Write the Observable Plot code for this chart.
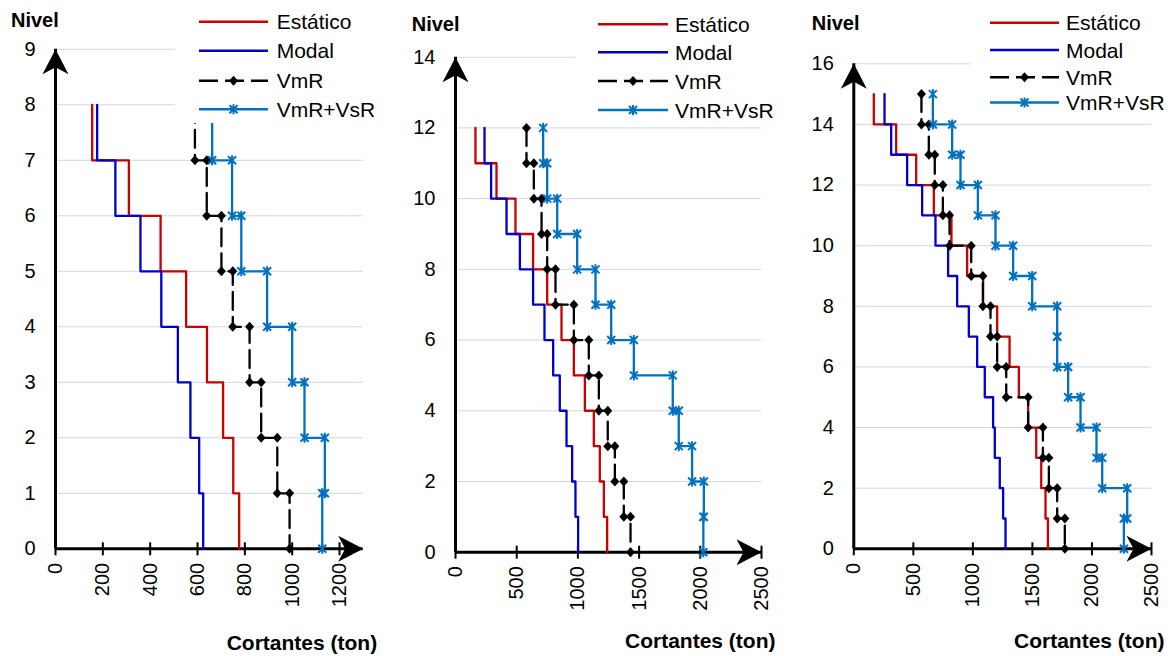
<!DOCTYPE html>
<html><head><meta charset="utf-8">
<script src="https://cdn.jsdelivr.net/npm/d3@7"></script>
<script src="https://cdn.jsdelivr.net/npm/@observablehq/plot@0.6"></script>
<style>
body{margin:0;background:#fff;}
#wrap{position:relative;width:1168px;height:656px;overflow:hidden;background:#fff;font-family:"Liberation Sans",Arial,sans-serif;}
#wrap svg{position:absolute;top:0;}
</style></head><body><div id="wrap"></div>
<script>
// ---- series ----
const seriesNames = ["Estático", "Modal", "VmR", "VmR+VsR"];
const seriesColors = ["#C80000", "#0000CC", "#000000", "#0070C0"];

// ---- panel 1 (storeys 1..8, bottom to top), cortantes in ton ----
const p1Estatico = [776, 751, 708, 640, 552, 444, 310, 155];
const p1Modal    = [624, 607, 570, 517, 447, 359, 253, 176];
const p1VmR      = [989, 937, 869, 820, 749, 701, 639, 589];
const p1VmRVsR   = [1127, 1138, 1052, 1000, 894, 785, 746, 662];
const p1XTicks = [0, 200, 400, 600, 800, 1000, 1200];
const p1YTicks = [0, 1, 2, 3, 4, 5, 6, 7, 8, 9];
const p1XMax = 1300;

// ---- panel 2 (storeys 1..12) ----
const p2Estatico = [1239, 1212, 1179, 1130, 1057, 967, 866, 749, 634, 490, 335, 163];
const p2Modal    = [1002, 980, 953, 907, 852, 798, 727, 634, 526, 417, 291, 237];
const p2VmR      = [1430, 1375, 1302, 1244, 1171, 1089, 967, 817, 749, 703, 640, 580];
const p2VmRVsR   = [2025, 2029, 1933, 1824, 1775, 1457, 1272, 1144, 994, 831, 749, 716];
const p2XTicks = [0, 500, 1000, 1500, 2000, 2500];
const p2YTicks = [0, 2, 4, 6, 8, 10, 12, 14];
const p2XMax = 2500;

// ---- panel 3 (storeys 1..15) ----
const p3Estatico = [1630, 1610, 1574, 1532, 1464, 1386, 1308, 1204, 1086, 952, 820, 672, 524, 356, 168];
const p3Modal    = [1274, 1254, 1226, 1184, 1170, 1100, 1036, 966, 868, 792, 686, 574, 448, 314, 258];
const p3VmR      = [1772, 1708, 1638, 1588, 1464, 1280, 1204, 1148, 1084, 986, 804, 748, 680, 630, 568];
const p3VmRVsR   = [2268, 2296, 2086, 2038, 1904, 1800, 1708, 1708, 1498, 1338, 1190, 1042, 896, 826, 664];
const p3XTicks = [0, 500, 1000, 1500, 2000, 2500];
const p3YTicks = [0, 2, 4, 6, 8, 10, 12, 14, 16];
const p3XMax = 2500;

const yLabel = "Nivel";
const xLabel = "Cortantes (ton)";
const FONT = "'Liberation Sans', Arial, sans-serif";

// ---- custom symbols ----
const diamondSym = {draw(c){c.moveTo(0,-5);c.lineTo(4.5,0);c.lineTo(0,5);c.lineTo(-4.5,0);c.closePath();}};
const starSym = {draw(c){const r=4;c.moveTo(-r,-r);c.lineTo(r,r);c.moveTo(r,-r);c.lineTo(-r,r);c.moveTo(0,-5);c.lineTo(0,5);}};
const arrowSym = {draw(c){c.moveTo(0,0);c.lineTo(13,25);c.lineTo(0,18);c.lineTo(-13,25);c.closePath();}};
const tickSym = {draw(c){c.moveTo(0,-6.5);c.lineTo(0,6.5);}};

// step-line vertices built from storey values
function steps(V){
  const pts=[];
  for(let s=V.length; s>=1; s--){ pts.push({x:V[s-1], y:s}); pts.push({x:V[s-1], y:s-1}); }
  return pts;
}

const panels = [
  {series:[p1Estatico,p1Modal,p1VmR,p1VmRVsR], xt:p1XTicks, yt:p1YTicks, xmax:p1XMax,
   left:0, width:390, mL:55, mR:27.3, mT:48.8, mB:107.7,
   leg:{box:[175,0,215,123], x1:199, x2:268, tx:276.7, rows:[21.7,50.7,80.7,109.3]},
   nivel:[11,27.3], cort:[226.7,650]},
  {series:[p2Estatico,p2Modal,p2VmR,p2VmRVsR], xt:p2XTicks, yt:p2YTicks, xmax:p2XMax,
   left:390, width:400, mL:65, mR:29, mT:56.7, mB:104.3,
   leg:{box:[575,0,215,122], x1:598, x2:668, tx:675, rows:[24.3,52.3,81,110]},
   nivel:[411.7,31], cort:[625,648.3]},
  {series:[p3Estatico,p3Modal,p3VmR,p3VmRVsR], xt:p3XTicks, yt:p3YTicks, xmax:p3XMax,
   left:790, width:378, mL:63.3, mR:17, mT:63.3, mB:107.7,
   leg:{box:[970,0,198,118], x1:990, x2:1059, tx:1066, rows:[22.7,50,77.3,102.5]},
   nivel:[811.7,30], cort:[1014,648]}
];

const wrap = document.getElementById("wrap");

for (const p of panels){
  const ymax = p.yt[p.yt.length-1];
  const [est, mod, vmr, vsr] = p.series.map(steps);
  const chart = Plot.plot({
    width: p.width, height: 656,
    marginLeft: p.mL, marginRight: p.mR, marginTop: p.mT, marginBottom: p.mB,
    x: {domain: [0, p.xmax]},
    y: {domain: [0, ymax]},
    style: {fontFamily: FONT, fontSize: "20px", overflow: "visible", background: "transparent", color: "#000"},
    marks: [
      Plot.ruleY(p.yt, {stroke: "#cdd8ea", strokeWidth: 1}),
      Plot.axisY({ticks: p.yt, tickSize: 0, tickPadding: 20, label: null, fontSize: 20, tickFormat: d => `${d}`}),
      Plot.axisX({ticks: p.xt, tickSize: 0, tickPadding: 14, tickRotate: -90, label: null, fontSize: 20, tickFormat: d => `${d}`}),
      Plot.ruleX([0], {stroke: "#000", strokeWidth: 3}),
      Plot.ruleY([0], {stroke: "#000", strokeWidth: 3}),
      Plot.dot(p.xt, {x: d => d, y: 0, symbol: tickSym, stroke: "#000", strokeWidth: 2, fill: "none"}),
      Plot.line(est, {x: "x", y: "y", stroke: seriesColors[0], strokeWidth: 2.3}),
      Plot.line(mod, {x: "x", y: "y", stroke: seriesColors[1], strokeWidth: 2.3}),
      Plot.line(vmr, {x: "x", y: "y", stroke: seriesColors[2], strokeWidth: 2.3, strokeDasharray: "18,7"}),
      Plot.dot(vmr, {x: "x", y: "y", symbol: diamondSym, fill: seriesColors[2], stroke: "none"}),
      Plot.line(vsr, {x: "x", y: "y", stroke: seriesColors[3], strokeWidth: 2.3}),
      Plot.dot(vsr, {x: "x", y: "y", symbol: starSym, stroke: seriesColors[3], strokeWidth: 2, fill: "none"}),
      Plot.dot([0], {x: 0, y: ymax, symbol: arrowSym, fill: "#000", stroke: "none"}),
      Plot.dot([0], {x: p.xmax, y: 0, symbol: arrowSym, fill: "#000", stroke: "none", rotate: 90})
    ]
  });
  chart.style.left = p.left + "px";
  wrap.appendChild(chart);
}

// overlay: legends and axis titles
const ov = d3.select(wrap).append("svg").attr("width",1168).attr("height",656)
  .style("left","0px").style("font-family",FONT);
for (const p of panels){
  const L = p.leg;
  ov.append("rect").attr("x",L.box[0]).attr("y",L.box[1]).attr("width",L.box[2]).attr("height",L.box[3]).attr("fill","#fff");
  seriesNames.forEach((name,i)=>{
    const y = L.rows[i];
    const ln = ov.append("line").attr("x1",L.x1).attr("x2",L.x2).attr("y1",y).attr("y2",y)
      .attr("stroke",seriesColors[i]).attr("stroke-width",2.5);
    const cx = (L.x1+L.x2)/2;
    if (i===2){
      ln.attr("stroke-dasharray","19,7");
      ov.append("path").attr("d",`M${cx},${y-5}L${cx+4.5},${y}L${cx},${y+5}L${cx-4.5},${y}Z`).attr("fill","#000");
    }
    if (i===3){
      ov.append("path").attr("d",`M${cx-4},${y-4}L${cx+4},${y+4}M${cx+4},${y-4}L${cx-4},${y+4}M${cx},${y-5}L${cx},${y+5}`)
        .attr("stroke",seriesColors[3]).attr("stroke-width",2).attr("fill","none");
    }
    ov.append("text").attr("x",L.tx).attr("y",y+7.5).attr("font-size",21).attr("fill","#000").text(name);
  });
  ov.append("text").attr("x",p.nivel[0]).attr("y",p.nivel[1]).attr("font-size",20).attr("font-weight","bold").text(yLabel);
  ov.append("text").attr("x",p.cort[0]).attr("y",p.cort[1]).attr("font-size",21).attr("font-weight","bold").text(xLabel);
}
</script>
</body></html>
